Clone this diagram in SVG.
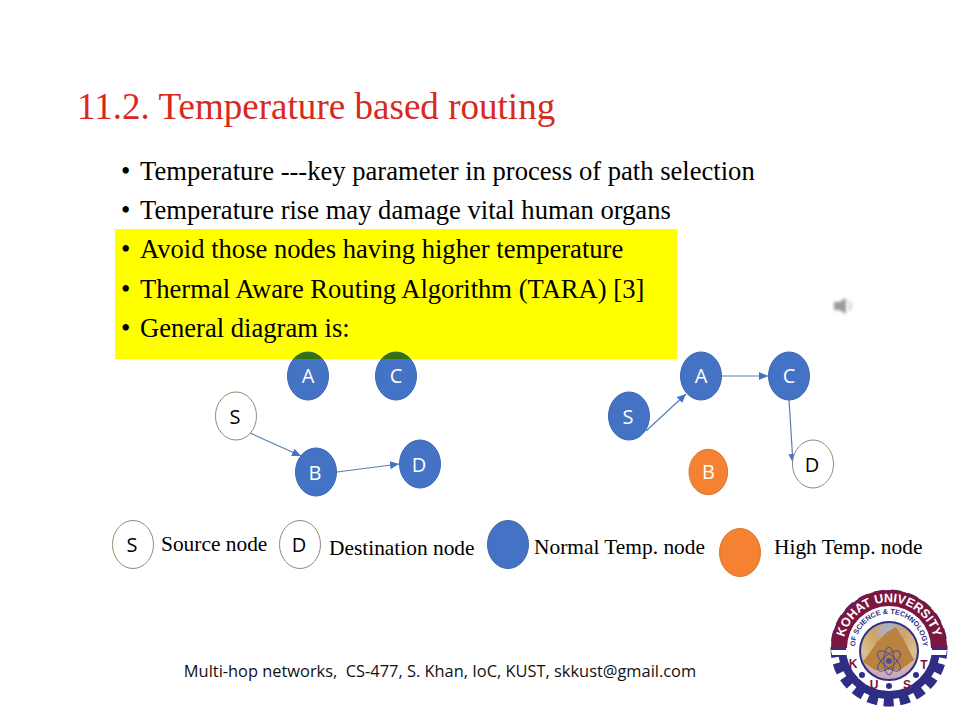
<svg xmlns="http://www.w3.org/2000/svg" width="960" height="720" viewBox="0 0 960 720">
<style>
.t{font-family:"Liberation Serif","Times New Roman",serif;fill:#000}
.b{font-size:26.600px}
.l{font-size:21.400px}
.n{font-family:"Open Sans","Noto Sans",sans-serif;font-size:20px;text-anchor:middle}
.w{fill:#fff}.k{fill:#000}
.blue{fill:#4472c4;stroke:#3f67b0;stroke-width:1}
.orange{fill:#f58233;stroke:#d9762f;stroke-width:1}
.white{fill:#fff;stroke:#8e8e70;stroke-width:1}
.c{fill:none;stroke:#5580b5;stroke-width:1.2;marker-end:url(#a)}
</style>
<defs>
<marker id="a" markerUnits="userSpaceOnUse" markerWidth="10" markerHeight="8" refX="9" refY="4" orient="auto"><path d="M0 0L9 4L0 8Z" fill="#4472c4"/></marker>
<path id="arc1" d="M845.800 664A46 46 0 1 1 932.200 664"/>
<path id="arc2" d="M857 659.300A34 34 0 1 1 921 659.300"/>
<radialGradient id="sp" cx="50%" cy="15%" r="80%"><stop offset="0" stop-color="#9fb4e0"/><stop offset="0.35" stop-color="#d0a468"/><stop offset="0.7" stop-color="#dcc08c"/><stop offset="1" stop-color="#c9a7c0"/></radialGradient>
<filter id="bl" x="-30%" y="-30%" width="160%" height="160%"><feGaussianBlur stdDeviation="1.5"/></filter>
<filter id="sf" x="-5%" y="-5%" width="110%" height="110%"><feGaussianBlur stdDeviation="0.4"/></filter>
</defs>
<rect width="960" height="720" fill="#fff"/>
<text class="t" x="77" y="119" font-size="37.100" style="fill:#d8291f">11.2. Temperature based routing</text>
<rect x="115" y="229" width="562" height="130" fill="#ffff00"/>
<g id="bullets">
<text class="t b" x="121" y="180">•</text><text class="t b" x="140" y="180">Temperature ---key parameter in process of path selection</text>
<text class="t b" x="121" y="219">•</text><text class="t b" x="140" y="219">Temperature rise may damage vital human organs</text>
<text class="t b" x="121" y="258">•</text><text class="t b" x="140" y="258">Avoid those nodes having higher temperature</text>
<text class="t b" x="121" y="298">•</text><text class="t b" x="140" y="298">Thermal Aware Routing Algorithm (TARA) [3]</text>
<text class="t b" x="121" y="337">•</text><text class="t b" x="140" y="337">General diagram is:</text>
</g>
<g id="connectors">
<path class="c" d="M250 433L301 456"/>
<path class="c" d="M337 472L399 464"/>
<path class="c" d="M646 431L686 394"/>
<path class="c" d="M722 376L768 376"/>
<path class="c" d="M789 400L793 463"/>
</g>
<g id="left-A"><ellipse class="blue" cx="308" cy="376" rx="20.500" ry="24"/><path d="M293.500 359A20.500 24 0 0 1 322.500 359Z" fill="#33720f"/><text class="n w" x="308" y="383">A</text></g>
<g id="left-C"><ellipse class="blue" cx="396" cy="376" rx="20.500" ry="24"/><path d="M381.500 359A20.500 24 0 0 1 410.500 359Z" fill="#33720f"/><text class="n w" x="396" y="383">C</text></g>
<g id="left-S"><ellipse class="white" cx="236" cy="416" rx="20.500" ry="24"/><text class="n k" x="235" y="424">S</text></g>
<g id="left-B"><ellipse class="blue" cx="316" cy="472" rx="20.500" ry="24"/><text class="n w" x="315" y="480">B</text></g>
<g id="left-D"><ellipse class="blue" cx="420" cy="464" rx="20.500" ry="24"/><text class="n w" x="419" y="472">D</text></g>
<g id="right-A"><ellipse class="blue" cx="701" cy="376" rx="20.500" ry="24"/><text class="n w" x="701" y="383">A</text></g>
<g id="right-C"><ellipse class="blue" cx="789" cy="376" rx="20.500" ry="24"/><text class="n w" x="789" y="383">C</text></g>
<g id="right-S"><ellipse class="blue" cx="629" cy="416" rx="20.500" ry="24"/><text class="n w" x="628" y="424">S</text></g>
<g id="right-B"><ellipse class="orange" cx="708.300" cy="472" rx="19.300" ry="22.700"/><text class="n w" x="708.500" y="479">B</text></g>
<g id="right-D"><ellipse class="white" cx="813" cy="464" rx="20.500" ry="24"/><text class="n k" x="812" y="472">D</text></g>
<g id="legend-source"><ellipse class="white" cx="133" cy="544.500" rx="20.500" ry="24"/><text class="n k" x="132" y="552">S</text><text class="t l" x="161" y="551">Source node</text></g>
<g id="legend-destination"><ellipse class="white" cx="300" cy="544.500" rx="20.500" ry="24"/><text class="n k" x="299" y="552">D</text><text class="t l" x="329" y="555">Destination node</text></g>
<g id="legend-normal"><ellipse class="blue" cx="508" cy="544.500" rx="20.500" ry="24"/><text class="t l" x="534" y="554">Normal Temp. node</text></g>
<g id="legend-high"><ellipse class="orange" cx="740" cy="552.500" rx="20.500" ry="24"/><text class="t l" x="774" y="554">High Temp. node</text></g>
<text id="footer" x="440" y="677" text-anchor="middle" font-family="'Open Sans','Noto Sans',sans-serif" font-size="16.400" fill="#111" style="white-space:pre">Multi-hop networks,  CS-477, S. Khan, IoC, KUST, skkust@gmail.com</text>
<g id="speaker" filter="url(#bl)"><path d="M834 302H839L846 298V314L839 310H834Z" fill="#9a9a9a"/><path d="M849 301Q852 306 849 311" fill="none" stroke="#c8c8c8" stroke-width="2"/></g>
<g id="logo">
<g filter="url(#sf)">
<circle cx="889" cy="648" r="54" fill="none" stroke="#2f2f84" stroke-width="9" stroke-dasharray="10 6"/>
<circle cx="889" cy="648" r="47" fill="none" stroke="#2f2f84" stroke-width="8"/>
<path d="M831 648A58 58 0 0 1 947 648H930A41 41 0 0 0 848 648Z" fill="#7a1440"/>
<path d="M831 650H848V655H832Z M947 650H930V655H946Z" fill="#fff"/>
<circle cx="889" cy="648" r="42" fill="#fff"/>
<circle cx="889" cy="651" r="29" fill="url(#sp)" stroke="#2f2f84" stroke-width="2"/>
<path d="M863 662L877 642L887 632L896 627L904 640L914 660L900 670H875Z" fill="#b98240"/>
<ellipse cx="889" cy="661" rx="14" ry="6" fill="none" stroke="#4b4b9a" stroke-width="1" transform="rotate(40 889 661)"/>
<ellipse cx="889" cy="661" rx="14" ry="6" fill="none" stroke="#4b4b9a" stroke-width="1" transform="rotate(-40 889 661)"/>
<ellipse cx="889" cy="661" rx="5" ry="14" fill="none" stroke="#4b4b9a" stroke-width="1"/>
<circle cx="889" cy="661" r="3" fill="#4b4b9a"/>
<g fill="#2f2f84"><circle cx="862" cy="675" r="3"/><circle cx="889" cy="686" r="3"/><circle cx="916" cy="675" r="3"/></g>
</g>
<text font-family="'Liberation Sans',Arial,sans-serif" font-size="12.500" font-weight="bold" fill="#fff"><textPath href="#arc1" startOffset="50%" text-anchor="middle">KOHAT UNIVERSITY</textPath></text>
<text font-family="'Liberation Sans',Arial,sans-serif" font-size="7.200" font-weight="bold" fill="#2f2f84"><textPath href="#arc2" startOffset="50%" text-anchor="middle">OF SCIENCE &amp; TECHNOLOGY</textPath></text>
<g font-family="'Liberation Sans',Arial,sans-serif" font-size="12" font-weight="bold" fill="#7a1440" text-anchor="middle"><text x="853" y="668">K</text><text x="874" y="689">U</text><text x="907" y="689">S</text><text x="924" y="669">T</text></g>
</g>
</svg>
